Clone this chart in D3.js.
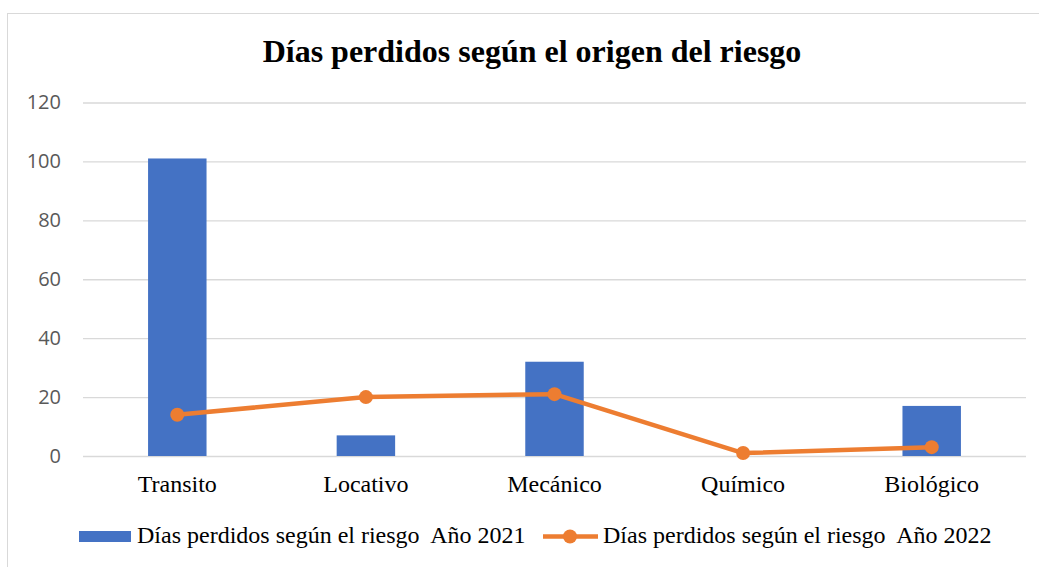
<!DOCTYPE html>
<html lang="es">
<head>
    <meta charset="UTF-8">
    <title>Días perdidos</title>
    <script src="https://cdn.jsdelivr.net/npm/d3@7"></script>
    <style>
        body { margin: 0; background: #fff; }
        text { white-space: pre; }
    </style>
</head>
<body>
<script>
    const categories = ['Transito', 'Locativo', 'Mecánico', 'Químico', 'Biológico']
    const dias2021 = [101, 7, 32, 0, 17]
    const dias2022 = [14, 20, 21, 1, 3]
    const yTicks = [0, 20, 40, 60, 80, 100, 120]
    const seriesNames = ['Días perdidos según el riesgo  Año 2021', 'Días perdidos según el riesgo  Año 2022']

    const [width, height] = [1039, 567]
    const blue = '#4472C4', orange = '#ED7D31'
    const serif = '"Liberation Serif", "Times New Roman", serif'

    const svg = d3.select('body').append('svg')
        .attr('width', width)
        .attr('height', height)

    // marco del gráfico
    svg.append('rect')
        .attr('x', 7.5).attr('y', 13.5)
        .attr('width', 1100).attr('height', 700)
        .attr('fill', 'none').attr('stroke', '#d9d9d9')

    svg.append('text')
        .attr('x', 532).attr('y', 62)
        .attr('text-anchor', 'middle')
        .attr('font-family', serif)
        .attr('font-weight', 'bold')
        .attr('font-size', 32)
        .text('Días perdidos según el origen del riesgo')

    const x = d3.scaleBand().domain(categories).range([83, 1026]).paddingInner(0.69).paddingOuter(0.345)
    const y = d3.scaleLinear().domain([0, 120]).range([456, 102.5])

    // rejilla + etiquetas del eje y
    const yAxis = svg.append('g')
        .attr('transform', 'translate(83,0)')
        .call(d3.axisLeft(y).tickValues(yTicks).tickSize(-943).tickPadding(22))
    yAxis.select('.domain').remove()
    yAxis.selectAll('line').attr('stroke', '#d9d9d9').attr('stroke-width', 1.3)
    yAxis.selectAll('text')
        .attr('font-family', '"Open Sans", sans-serif')
        .attr('font-size', 20)
        .attr('fill', '#595959')

    svg.append('g').selectAll('rect')
        .data(dias2021)
        .enter().append('rect')
        .attr('x', (d, i) => x(categories[i]))
        .attr('y', d => y(d))
        .attr('width', x.bandwidth())
        .attr('height', d => y(0) - y(d))
        .attr('fill', blue)

    const cx = i => x(categories[i]) + x.bandwidth() / 2
    const line = d3.line().x((d, i) => cx(i)).y(d => y(d))
    svg.append('path')
        .datum(dias2022)
        .attr('d', line)
        .attr('fill', 'none')
        .attr('stroke', orange)
        .attr('stroke-width', 4.5)
        .attr('stroke-linejoin', 'round')
    svg.append('g').selectAll('circle')
        .data(dias2022)
        .enter().append('circle')
        .attr('cx', (d, i) => cx(i))
        .attr('cy', d => y(d))
        .attr('r', 7)
        .attr('fill', orange)

    // etiquetas de categorías
    svg.append('g').selectAll('text')
        .data(categories)
        .enter().append('text')
        .attr('x', (d, i) => cx(i))
        .attr('y', 492)
        .attr('text-anchor', 'middle')
        .attr('font-family', serif)
        .attr('font-size', 24)
        .text(d => d)

    // leyenda
    const legend = svg.append('g').attr('font-family', serif).attr('font-size', 24)
    legend.append('rect')
        .attr('x', 79).attr('y', 531).attr('width', 52).attr('height', 11)
        .attr('fill', blue)
    legend.append('text').attr('x', 137).attr('y', 543).text(seriesNames[0])
    legend.append('line')
        .attr('x1', 543).attr('x2', 598).attr('y1', 536.5).attr('y2', 536.5)
        .attr('stroke', orange).attr('stroke-width', 4.5)
    legend.append('circle').attr('cx', 570).attr('cy', 536.5).attr('r', 7).attr('fill', orange)
    legend.append('text').attr('x', 603).attr('y', 543).text(seriesNames[1])
</script>
</body>
</html>
